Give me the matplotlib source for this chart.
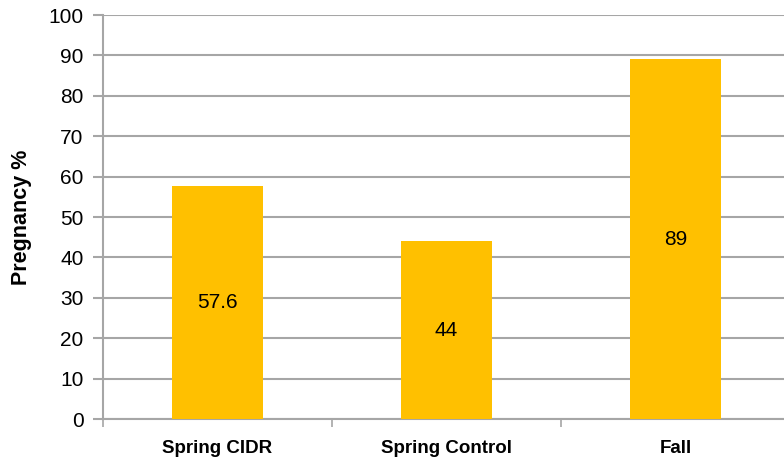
import numpy as np
import matplotlib.pyplot as plt

# Pregnancy rate by breeding group
groups = ['Spring CIDR', 'Spring Control', 'Fall']
pregnancy = [57.6, 44, 89]
value_labels = ['57.6', '44', '89']
yticks = [0, 10, 20, 30, 40, 50, 60, 70, 80, 90, 100]

plt.rcParams['font.family'] = ['Liberation Sans', 'DejaVu Sans']

fig = plt.figure(figsize=(7.84, 4.65), dpi=100)
ax = fig.add_axes([103/784, 46/465, 687/784, 404/465])

x = np.arange(len(groups))
bars = ax.bar(x, pregnancy, width=0.4, color='#FFC000', zorder=3)

for b, lab in zip(bars, value_labels):
    ax.text(b.get_x() + b.get_width()/2, b.get_height()/2, lab,
            ha='center', va='center', fontsize=15, color='black', zorder=4)

ax.set_xlim(-0.5, 2.5)
ax.set_ylim(0, 100)
ax.set_yticks(yticks)
ax.set_yticklabels([str(t) for t in yticks], fontsize=15)
ax.set_xticks(x)
ax.set_xticklabels(groups, fontsize=13.5, fontweight='bold')
ax.tick_params(axis='x', length=0, pad=15)
ax.tick_params(axis='y', length=7, color='#A6A6A6', width=1.5, pad=7)

# category separators on the x axis
ax.set_xticks([-0.5, 0.5, 1.5, 2.5], minor=True)
ax.tick_params(axis='x', which='minor', length=6, color='#A6A6A6', width=1.2)

ax.grid(axis='y', color='#A6A6A6', linewidth=1.5, zorder=0)
for s in ['top', 'right']:
    ax.spines[s].set_visible(False)
ax.spines['left'].set_color('#A6A6A6')
ax.spines['left'].set_linewidth(1.5)
ax.spines['bottom'].set_color('#A6A6A6')
ax.spines['bottom'].set_linewidth(1.5)

ax.set_ylabel('Pregnancy %', fontsize=15.5, fontweight='bold', labelpad=12)

fig.savefig('out.png', dpi=100)
